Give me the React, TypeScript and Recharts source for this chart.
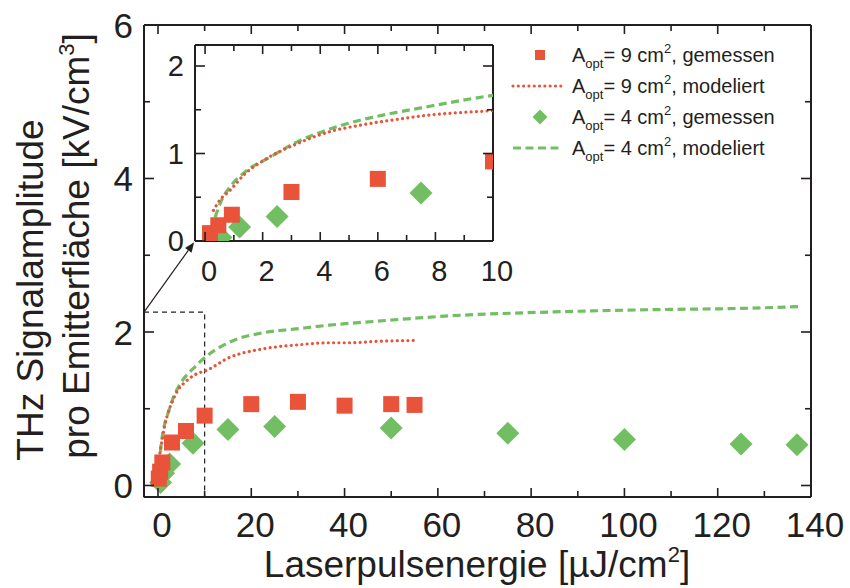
import React from 'react';
import {
    ScatterChart,
    Scatter,
    XAxis,
    YAxis,
    ReferenceLine,
    ReferenceArea,
    Legend,
} from 'recharts';

const FONT = '"Liberation Sans", Arial, Helvetica, sans-serif';
const INK = '#231f20';
const RED = '#e8533a';
const GREEN = '#72bf63';

// A_opt = 9 cm², gemessen
const red9X = [0.17, 0.46, 0.93, 3, 6, 10, 20, 30, 40, 50, 55];
const red9Y = [0.09, 0.18, 0.3, 0.56, 0.71, 0.91, 1.06, 1.09, 1.04, 1.06, 1.05];

// A_opt = 4 cm², gemessen
const green4X = [0.55, 1.2, 2.5, 7.5, 15, 25, 50, 75, 100, 125, 137];
const green4Y = [0.04, 0.16, 0.28, 0.55, 0.73, 0.77, 0.75, 0.68, 0.6, 0.54, 0.53];

// A_opt = 9 cm², modeliert
const model9X = [0.29, 0.52, 0.87, 1.39, 2.03, 3.18, 4.34, 5.5, 6.66, 7.81, 8.97, 10, 15.4, 22.5, 29.6, 36.8, 41, 47.5, 55.4];
const model9Y = [0.35, 0.47, 0.58, 0.77, 0.92, 1.11, 1.25, 1.33, 1.39, 1.44, 1.47, 1.49, 1.67, 1.78, 1.83, 1.86, 1.86, 1.88, 1.89];

// A_opt = 4 cm², modeliert
const model4X = [0.35, 0.55, 0.87, 1.39, 2.26, 3.18, 4.34, 5.5, 6.66, 7.81, 8.97, 10, 15.4, 22.5, 29.6, 36.8, 46.8, 62.5, 83.9, 105.4, 126.8, 137.5];
const model4Y = [0.27, 0.45, 0.62, 0.79, 0.96, 1.13, 1.28, 1.39, 1.47, 1.54, 1.61, 1.665, 1.87, 1.99, 2.04, 2.09, 2.14, 2.21, 2.26, 2.29, 2.31, 2.33];

const mainXTicks = [0, 10, 20, 30, 40, 50, 60, 70, 80, 90, 100, 110, 120, 130, 140];
const mainYTicks = [0, 1, 2, 3, 4, 5, 6];
const insetXTicks = [0, 1, 2, 3, 4, 5, 6, 7, 8, 9, 10];
const insetYTicks = [0, 0.5, 1, 1.5, 2];

const legendAreas = ['9', '9', '4', '4'];
const legendKinds = ['gemessen', 'modeliert', 'gemessen', 'modeliert'];

const toPoints = (xs: number[], ys: number[]) => xs.map((x, i) => ({ x, y: ys[i] }));

const red9 = toPoints(red9X, red9Y);
const green4 = toPoints(green4X, green4Y);
const model9 = toPoints(model9X, model9Y);
const model4 = toPoints(model4X, model4Y);

// plot boxes in page pixels
const MAIN = { left: 144, right: 811, top: 25, bottom: 497 };
const INSET = { left: 195, right: 493, top: 45, bottom: 241 };

const dottedRed = { stroke: RED, strokeWidth: 3.2, strokeDasharray: '0.01 5.3', strokeLinecap: 'round' as const };
const dashedGreen = { stroke: GREEN, strokeWidth: 3.2, strokeDasharray: '8 4.5' };

function isMajor(v: number, step: number) {
    return Math.abs(v / step - Math.round(v / step)) < 1e-6;
}

function makeXTick(box: typeof MAIN, step: number, fontSize: number, baseline: number) {
    // eslint-disable-next-line @typescript-eslint/no-explicit-any
    return (props: any) => {
        const { x, payload } = props;
        const major = isMajor(payload.value, step);
        const len = major ? 9 : 6;
        return (
            <g>
                <line x1={x} x2={x} y1={box.bottom} y2={box.bottom - len} stroke={INK} strokeWidth={1.6} />
                <line x1={x} x2={x} y1={box.top} y2={box.top + len} stroke={INK} strokeWidth={1.6} />
                {major && (
                    <text x={x + 4} y={baseline} textAnchor="middle" fontSize={fontSize} fill={INK} fontFamily={FONT}>
                        {payload.value}
                    </text>
                )}
            </g>
        );
    };
}

function makeYTick(box: typeof MAIN, step: number, fontSize: number, right: number) {
    // eslint-disable-next-line @typescript-eslint/no-explicit-any
    return (props: any) => {
        const { y, payload } = props;
        const major = isMajor(payload.value, step);
        const len = major ? 10 : 6;
        return (
            <g>
                <line x1={box.left} x2={box.left + len} y1={y} y2={y} stroke={INK} strokeWidth={1.6} />
                <line x1={box.right} x2={box.right - len} y1={y} y2={y} stroke={INK} strokeWidth={1.6} />
                {major && (
                    <text x={right} y={y + fontSize * 0.36} textAnchor="end" fontSize={fontSize} fill={INK} fontFamily={FONT}>
                        {payload.value}
                    </text>
                )}
            </g>
        );
    };
}

const squareShape = (size: number) =>
    // eslint-disable-next-line @typescript-eslint/no-explicit-any
    (p: any) => <rect x={p.cx - size / 2} y={p.cy - size / 2} width={size} height={size} fill={RED} />;

const diamondShape = (r: number) =>
    // eslint-disable-next-line @typescript-eslint/no-explicit-any
    (p: any) => (
        <polygon points={`${p.cx},${p.cy - r} ${p.cx + r},${p.cy} ${p.cx},${p.cy + r} ${p.cx - r},${p.cy}`} fill={GREEN} />
    );

const noShape = () => <g />;

function XTitle() {
    return (
        <text x={477} y={577} textAnchor="middle" fontSize={37} fill={INK} fontFamily={FONT}>
            Laserpulsenergie [µJ/cm
            <tspan dy={-15} fontSize={22}>2</tspan>
            <tspan dy={15}>]</tspan>
        </text>
    );
}

function YTitle() {
    return (
        <g fontFamily={FONT} fill={INK} fontSize={37}>
            <text x={43} y={290} textAnchor="middle" transform="rotate(-90, 43, 290)">
                THz Signalamplitude
            </text>
            <text x={89} y={246} textAnchor="middle" transform="rotate(-90, 89, 246)">
                pro Emitterfläche [kV/cm
                <tspan dy={-15} fontSize={22}>3</tspan>
                <tspan dy={15}>]</tspan>
            </text>
        </g>
    );
}

// eslint-disable-next-line @typescript-eslint/no-explicit-any
function Arrow(props: any) {
    const { x1, y1, x2, y2 } = props;
    const a = Math.atan2(y2 - y1, x2 - x1);
    const L = 10;
    const W = 4;
    const bx = x2 - L * Math.cos(a);
    const by = y2 - L * Math.sin(a);
    const pts = `${x2},${y2} ${bx + W * Math.sin(a)},${by - W * Math.cos(a)} ${bx - W * Math.sin(a)},${by + W * Math.cos(a)}`;
    return (
        <g>
            <line x1={x1} y1={y1} x2={bx} y2={by} stroke={INK} strokeWidth={1.2} />
            <polygon points={pts} fill={INK} />
        </g>
    );
}

function LegendBox() {
    return (
        <svg width={320} height={135} style={{ display: 'block' }}>
            {legendAreas.map((area, i) => {
                const cy = 19 + i * 31;
                const measured = legendKinds[i] === 'gemessen';
                const color = area === '9' ? RED : GREEN;
                let marker;
                if (measured && area === '9') {
                    marker = <rect x={35} y={cy - 5} width={10} height={10} fill={color} />;
                } else if (measured) {
                    marker = <polygon points={`40,${cy - 7.5} 47.5,${cy} 40,${cy + 7.5} 32.5,${cy}`} fill={color} />;
                } else if (area === '9') {
                    marker = <line x1={13} x2={64} y1={cy} y2={cy} {...dottedRed} />;
                } else {
                    marker = <line x1={13} x2={62} y1={cy} y2={cy} {...dashedGreen} />;
                }
                return (
                    <g key={i}>
                        {marker}
                        <text x={72} y={cy + 7} fontSize={20} fill={INK} fontFamily={FONT}>
                            A<tspan dy={6} fontSize={13}>opt</tspan>
                            <tspan dy={-6}>= {area} cm</tspan>
                            <tspan dy={-9} fontSize={13}>2</tspan>
                            <tspan dy={9}>, {legendKinds[i]}</tspan>
                        </text>
                    </g>
                );
            })}
        </svg>
    );
}

export default function App() {
    return (
        <div style={{ position: 'absolute', left: 0, top: 0, width: 850, height: 588, background: '#fff' }}>
            <div style={{ position: 'absolute', left: 0, top: 0 }}>
                <ScatterChart width={850} height={588} margin={{ top: MAIN.top, right: 850 - MAIN.right, bottom: 0, left: 0 }}>
                    <XAxis
                        type="number"
                        dataKey="x"
                        domain={[-3, 140]}
                        allowDataOverflow
                        ticks={mainXTicks}
                        interval={0}
                        height={588 - MAIN.bottom}
                        axisLine={{ stroke: INK, strokeWidth: 2 }}
                        tickLine={false}
                        tick={makeXTick(MAIN, 20, 35, 537)}
                        label={<XTitle />}
                    />
                    <YAxis
                        type="number"
                        dataKey="y"
                        domain={[-0.15, 6]}
                        allowDataOverflow
                        ticks={mainYTicks}
                        interval={0}
                        width={MAIN.left}
                        axisLine={{ stroke: INK, strokeWidth: 2 }}
                        tickLine={false}
                        tick={makeYTick(MAIN, 2, 35, 133)}
                        label={<YTitle />}
                    />
                    <ReferenceLine x={140} stroke={INK} strokeWidth={2} />
                    <ReferenceLine y={6} stroke={INK} strokeWidth={2} />
                    <ReferenceArea x1={-3} x2={10} y1={-0.15} y2={2.26} fill="none" stroke={INK} strokeWidth={1.2} strokeDasharray="5 4" />
                    <ReferenceLine
                        segment={[{ x: -3, y: 2.26 }, { x: 7.75, y: 3.17 }]}
                        ifOverflow="visible"
                        shape={Arrow}
                    />
                    <Scatter data={model4} line={dashedGreen} lineJointType="monotoneX" shape={noShape} isAnimationActive={false} />
                    <Scatter data={model9} line={dottedRed} lineJointType="monotoneX" shape={noShape} isAnimationActive={false} />
                    <Scatter data={green4} shape={diamondShape(11.5)} isAnimationActive={false} />
                    <Scatter data={red9} shape={squareShape(16)} isAnimationActive={false} />
                    <Legend
                        layout="horizontal"
                        verticalAlign="middle"
                        align="center"
                        content={<LegendBox />}
                        wrapperStyle={{ left: 500, top: 36, width: 320, height: 135 }}
                    />
                </ScatterChart>
            </div>
            <div style={{ position: 'absolute', left: 0, top: 0 }}>
                <ScatterChart width={520} height={300} margin={{ top: INSET.top, right: 520 - INSET.right, bottom: 0, left: 0 }}>
                    <XAxis
                        type="number"
                        dataKey="x"
                        domain={[-0.35, 10]}
                        allowDataOverflow
                        ticks={insetXTicks}
                        interval={0}
                        height={300 - INSET.bottom}
                        axisLine={{ stroke: INK, strokeWidth: 2 }}
                        tickLine={false}
                        tick={makeXTick(INSET, 2, 29, 281)}
                    />
                    <YAxis
                        type="number"
                        dataKey="y"
                        domain={[0, 2.24]}
                        allowDataOverflow
                        ticks={insetYTicks}
                        interval={0}
                        width={INSET.left}
                        axisLine={{ stroke: INK, strokeWidth: 2 }}
                        tickLine={false}
                        tick={makeYTick(INSET, 1, 29, 184)}
                    />
                    <ReferenceLine x={10} stroke={INK} strokeWidth={2} />
                    <ReferenceLine y={2.24} stroke={INK} strokeWidth={2} />
                    <Scatter data={model4} line={dashedGreen} lineJointType="monotoneX" shape={noShape} isAnimationActive={false} />
                    <Scatter data={model9} line={dottedRed} lineJointType="monotoneX" shape={noShape} isAnimationActive={false} />
                    <Scatter data={green4} shape={diamondShape(11.5)} isAnimationActive={false} />
                    <Scatter data={red9} shape={squareShape(16)} isAnimationActive={false} />
                </ScatterChart>
            </div>
        </div>
    );
}
